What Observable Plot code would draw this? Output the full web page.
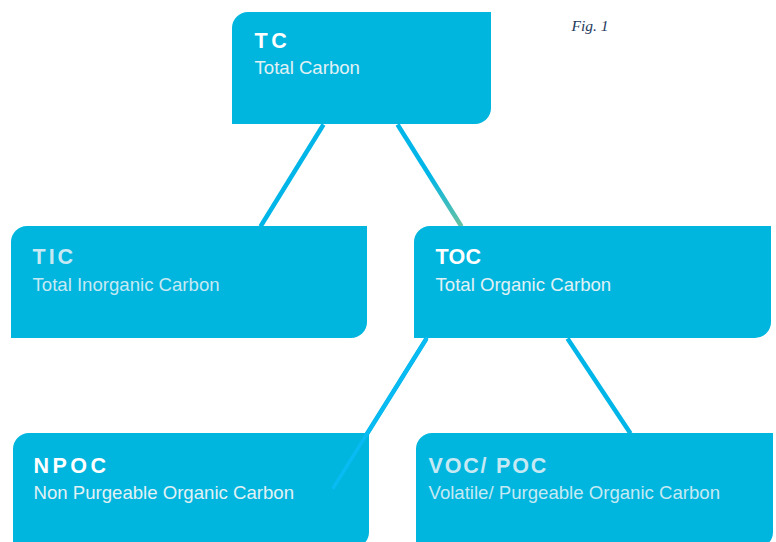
<!DOCTYPE html>
<html>
<head>
<meta charset="utf-8">
<script src="https://cdn.jsdelivr.net/npm/d3@7"></script>
<script src="https://cdn.jsdelivr.net/npm/@observablehq/plot@0.6"></script>
<style>
  html, body { margin: 0; padding: 0; background: #ffffff; }
  #chart svg { display: block; }
</style>
</head>
<body>
<div id="chart"></div>
<script>
// Node labels
const codes = ["TC", "TIC", "TOC", "NPOC", "VOC/ POC"];
const names = ["Total Carbon", "Total Inorganic Carbon", "Total Organic Carbon",
               "Non Purgeable Organic Carbon", "Volatile/ Purgeable Organic Carbon"];
// Box extents in diagram units (0–776 wide, 0–542 tall, y downward)
const boxLeft   = [232, 11, 414, 13, 416];
const boxRight  = [491, 367, 771, 369, 773];
const boxTop    = [12, 226, 226, 433, 433];
const boxBottom = [124, 338, 338, 548, 548];
// Edges: parent -> child, with attachment points
const edgeFrom = [0, 0, 2, 2];
const edgeTo   = [1, 2, 3, 4];
const edgeX1 = [323, 397, 426, 567];
const edgeY1 = [124, 124, 338, 338];
const edgeX2 = [260, 461, 333, 630];
const edgeY2 = [226, 226, 487, 433];
const figLabel = "Fig. 1";

const nodes = codes.map((c, i) => ({
  code: c, name: names[i],
  x1: boxLeft[i], x2: boxRight[i], y1: boxTop[i], y2: boxBottom[i]
}));
const edges = edgeFrom.map((f, i) => ({
  from: f, to: edgeTo[i], x1: edgeX1[i], y1: edgeY1[i], x2: edgeX2[i], y2: edgeY2[i]
}));

// styles
const boxFill = "#00b6de";
const lineColor = "#00b6e8";
const overColor = "#08bbf2";
const titleColors = ["#ffffff", "#c6e9f4", "#ffffff", "#ffffff", "#c6e9f4"];
const subColors = ["#e2f1f5", "#c6e9f4", "#e2f1f5", "#e2f1f5", "#c6e9f4"];
const titleSpacing = [3.5, 3, 0.3, 3.5, 1.8];
const padX = [22, 21, 21, 20, 12];
const padTitle = [35, 37, 37, 39, 39];
const padSub = [61, 64, 64, 65, 65];

const plain = edges.filter((e, i) => i !== 1);
const grad = edges.filter((e, i) => i === 1);

const svg = Plot.plot({
  width: 776,
  height: 542,
  margin: 0,
  x: { domain: [0, 776], range: [0, 776], axis: null },
  y: { domain: [0, 542], range: [0, 542], axis: null },
  style: { background: "#ffffff", overflow: "hidden" },
  marks: [
    Plot.link(plain, {
      x1: "x1", y1: "y1", x2: "x2", y2: "y2",
      stroke: lineColor, strokeWidth: 4.5
    }),
    Plot.link(grad, {
      x1: "x1", y1: "y1", x2: "x2", y2: "y2",
      stroke: "url(#tocGrad)", strokeWidth: 4.5
    }),
    Plot.rect(nodes, { x1: "x1", x2: "x2", y1: "y1", y2: "y2", fill: boxFill, rx: 16, ry: 16 }),
    // square off top-right and bottom-left corners
    Plot.rect(nodes, { x1: d => (d.x1 + d.x2) / 2, x2: "x2", y1: "y1", y2: d => (d.y1 + d.y2) / 2, fill: boxFill }),
    Plot.rect(nodes, { x1: "x1", x2: d => (d.x1 + d.x2) / 2, y1: d => (d.y1 + d.y2) / 2, y2: "y2", fill: boxFill }),
    // the TOC -> NPOC connector runs on into the NPOC box
    Plot.link(plain.filter(e => e.to === 3), {
      x1: "x1", y1: "y1", x2: "x2", y2: "y2",
      stroke: overColor, strokeWidth: 3.5, strokeLinecap: "round"
    }),
    Plot.text(nodes, {
      x: (d, i) => d.x1 + padX[i], y: (d, i) => d.y1 + padTitle[i],
      text: "code", textAnchor: "start", lineAnchor: "bottom",
      fill: "#ffffff", fontSize: 21.5, fontWeight: "bold",
      fontFamily: "Liberation Sans, Arial, sans-serif"
    }),
    Plot.text(nodes, {
      x: (d, i) => d.x1 + padX[i], y: (d, i) => d.y1 + padSub[i],
      text: "name", textAnchor: "start", lineAnchor: "bottom",
      fill: "#e2f1f5", fontSize: 18.6,
      fontFamily: "Liberation Sans, Arial, sans-serif"
    }),
    Plot.text([figLabel], {
      x: 571, y: 30, text: d => d, textAnchor: "start", lineAnchor: "bottom",
      fill: "#1d3a5c", fontSize: 15.5, fontStyle: "italic",
      fontFamily: "Liberation Serif, Times New Roman, serif"
    })
  ]
});

// per-node text colours and letter-spacing
svg.querySelectorAll("text").forEach(t => {
  const txt = t.textContent;
  const ci = codes.indexOf(txt);
  if (ci >= 0) {
    t.setAttribute("fill", titleColors[ci]);
    t.style.fill = titleColors[ci];
    t.style.letterSpacing = titleSpacing[ci] + "px";
  }
  const ni = names.indexOf(txt);
  if (ni >= 0) {
    t.setAttribute("fill", subColors[ni]);
    t.style.fill = subColors[ni];
  }
});

// gradient for TC -> TOC connector
const ns = "http://www.w3.org/2000/svg";
const defs = document.createElementNS(ns, "defs");
const lg = document.createElementNS(ns, "linearGradient");
lg.setAttribute("id", "tocGrad");
lg.setAttribute("x1", "0"); lg.setAttribute("y1", "0");
lg.setAttribute("x2", "0"); lg.setAttribute("y2", "1");
[["0", lineColor], ["0.5", lineColor], ["1", "#68c1a0"]].forEach(([o, c]) => {
  const s = document.createElementNS(ns, "stop");
  s.setAttribute("offset", o); s.setAttribute("stop-color", c);
  lg.appendChild(s);
});
defs.appendChild(lg);
svg.insertBefore(defs, svg.firstChild);

document.getElementById("chart").appendChild(svg);
</script>
</body>
</html>
